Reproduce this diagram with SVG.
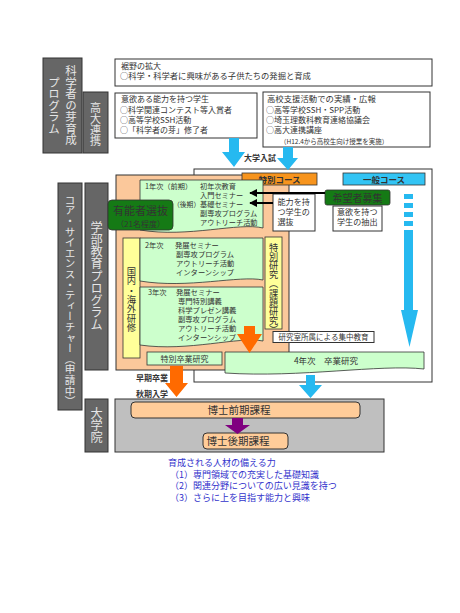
<svg xmlns="http://www.w3.org/2000/svg" width="460" height="613" viewBox="0 0 460 613">
<defs>
<style>
.t{font-family:"Noto Sans CJK JP","Noto Sans",sans-serif;fill:#333}
.bd{font-weight:bold}
.box{fill:#fff;stroke:#333;stroke-width:1}
.lab{fill:#666;stroke:#333;stroke-width:1}
.vt{writing-mode:vertical-rl;font-family:"Noto Sans CJK JP","Noto Sans",sans-serif;fill:#e6e6e6}
.vd{writing-mode:vertical-rl;font-family:"Noto Sans CJK JP","Noto Sans",sans-serif;fill:#333}
.lg{fill:#ccffcc;stroke:#333;stroke-width:0.8}
.yl{fill:#ffff99;stroke:#333;stroke-width:0.8}
.dg{fill:#157a15;stroke:#333;stroke-width:0.8}
.pk{fill:#ffcc99;stroke:#333;stroke-width:1}
.cy{fill:#26b9f0}
.or{fill:#ff6a00}
.bl{font-family:"Noto Sans CJK JP","Noto Sans",sans-serif;fill:#3333cc;font-size:9px}
</style>
<marker id="ah" viewBox="0 0 10 10" refX="9" refY="5" markerWidth="4" markerHeight="4" orient="auto"><path d="M0,0L10,5L0,10z" fill="#000"/></marker>
</defs>
<rect width="460" height="613" fill="#fff"/>

<g id="label-kagakusha">
<rect class="lab" x="43" y="58" width="39" height="95"/>
<text class="vt" x="71" y="65" font-size="11.5">科学者の芽育成</text>
<text class="vt" x="54" y="76.5" font-size="11.5">プログラム</text>
</g>
<g id="label-koudai">
<rect class="lab" x="83" y="92" width="25" height="61"/>
<text class="vt" x="95.5" y="102.5" font-size="11">高大連携</text>
</g>
<g id="label-core">
<rect class="lab" x="58" y="183" width="24" height="227"/>
<text class="vt" x="70" y="194.5" font-size="10.6">コア・サイエンス・ティーチャー（申請中）</text>
</g>
<g id="label-gakubu">
<rect class="lab" x="85" y="183" width="23" height="187"/>
<text class="vt" x="96.5" y="221" font-size="12.2">学部教育プログラム</text>
</g>
<g id="label-daigakuin">
<rect class="lab" x="85" y="399" width="23" height="53"/>
<text class="vt" x="96.5" y="407" font-size="12.2">大学院</text>
</g>

<g id="box-susono">
<rect class="box" x="115" y="59" width="317" height="27"/>
<text class="t" font-size="8"><tspan x="121" y="68.5">裾野の拡大</tspan><tspan x="120" y="79" font-size="8.3">○科学・科学者に興味がある子供たちの発掘と育成</tspan></text>
</g>
<g id="box-iyoku">
<rect class="box" x="115" y="93" width="142" height="45"/>
<text class="t" font-size="8"><tspan x="121" y="102">意欲ある能力を持つ学生</tspan><tspan x="120" y="113">○科学関連コンテスト等入賞者</tspan><tspan x="120" y="123">○高等学校SSH活動</tspan><tspan x="120" y="133">○「科学者の芽」修了者</tspan></text>
</g>
<g id="box-koukou">
<rect class="box" x="263" y="92" width="167" height="55"/>
<text class="t" font-size="8"><tspan x="267" y="102" font-size="8.4">高校支援活動での実績・広報</tspan><tspan x="266" y="113">○高等学校SSH・SPP活動</tspan><tspan x="266" y="123">○埼玉理数科教育連絡協議会</tspan><tspan x="266" y="133">○高大連携講座</tspan><tspan x="280" y="143.5" font-size="6.5">（H12.4から高校生向け授業を実施）</tspan></text>
</g>

<g id="nyushi">
<text class="t bd" x="244" y="161" font-size="8" fill="#222">大学入試</text>
</g>

<g id="frame-general">
<rect class="box" x="194" y="169" width="238" height="213"/>
</g>
<g id="frame-special">
<rect x="116" y="175" width="173" height="195" fill="#fbc89b" stroke="#333" stroke-width="1"/>
</g>

<g id="label-tokubetsu">
<rect x="242" y="173" width="75" height="12" fill="#f7941d" stroke="#333" stroke-width="0.8"/>
<text class="t bd" x="279.5" y="182.5" font-size="8.5" text-anchor="middle" fill="#402000">特別コース</text>
</g>
<g id="label-ippan">
<rect x="343" y="173" width="82" height="12" fill="#33c4f4" stroke="#333" stroke-width="0.8"/>
<text class="t bd" x="384" y="182.5" font-size="8.5" text-anchor="middle" fill="#103040">一般コース</text>
</g>

<g id="box-year1">
<path class="lg" d="M140,180H263V228C239,222 188,238 140,230Z"/>
<text class="t" font-size="7.2"><tspan x="145" y="189">1年次（前期）</tspan><tspan x="200" y="189">初年次教育</tspan><tspan x="200" y="198">入門セミナー</tspan><tspan x="173" y="207" font-size="6.8">（後期）</tspan><tspan x="200" y="207">基礎セミナー</tspan><tspan x="200" y="216">副専攻プログラム</tspan><tspan x="200" y="225">アウトリーチ活動</tspan></text>
</g>

<g id="box-yunousha">
<rect class="dg" x="108" y="200" width="65" height="30" rx="4"/>
<text class="t" font-size="11" text-anchor="middle" fill="#f0fff0"><tspan x="140.5" y="214.5">有能者選抜</tspan><tspan x="140.5" y="226.5" font-size="8">（21名程度）</tspan></text>
</g>

<g id="box-nouryoku">
<rect class="box" x="273" y="194" width="42" height="37"/>
<text class="t" font-size="8.1"><tspan x="277.5" y="204.5">能力を持</tspan><tspan x="277.5" y="214.8">つ学生の</tspan><tspan x="277.5" y="225.1">選抜</tspan></text>
</g>
<g id="box-kibousha">
<rect class="dg" x="325" y="190" width="65" height="15" rx="2"/>
<text class="t" x="357.5" y="201.5" font-size="10" text-anchor="middle" fill="#e6ffe6">希望者募集</text>
</g>
<g id="box-iyoku2">
<rect class="box" x="333" y="206" width="49" height="25"/>
<text class="t" font-size="8.1"><tspan x="337" y="215">意欲を持つ</tspan><tspan x="337" y="225.3">学生の抽出</tspan></text>
</g>

<g id="box-kenshu">
<rect class="yl" x="123" y="238" width="17" height="120"/>
<text class="vd" x="131.5" y="267" font-size="9.3">国内・海外研修</text>
</g>
<g id="box-year2">
<path class="lg" d="M140,238H263V280C239,275 188,289 140,281Z"/>
<text class="t" font-size="7.3"><tspan x="145" y="248">2年次</tspan><tspan x="175" y="248">発展セミナー</tspan><tspan x="176" y="257">副専攻プログラム</tspan><tspan x="176" y="266">アウトリーチ活動</tspan><tspan x="176" y="275">インターンシップ</tspan></text>
</g>
<g id="box-year3">
<path class="lg" d="M140,287H263V341C239,336 188,352 140,345Z"/>
<text class="t" font-size="7.3"><tspan x="148" y="295">3年次</tspan><tspan x="176" y="295">発展セミナー</tspan><tspan x="178" y="304">専門特別講義</tspan><tspan x="178" y="313">科学プレゼン講義</tspan><tspan x="178" y="322">副専攻プログラム</tspan><tspan x="178" y="331">アウトリーチ活動</tspan><tspan x="178" y="340">インターンシップ</tspan></text>
</g>
<g id="box-tokubetsu-kenkyu">
<rect class="yl" x="265" y="237" width="17" height="92"/>
<text class="vd" x="273.5" y="242.5" font-size="9.2">特別研究（課題研究）</text>
</g>
<g id="box-kenkyushitsu">
<rect class="box" x="273" y="331.5" width="101" height="11"/>
<text class="t" x="323.5" y="340" font-size="7.5" text-anchor="middle">研究室所属による集中教育</text>
</g>
<g id="box-tokubetsu-sotsugyo">
<rect class="lg" x="147" y="352" width="75" height="13"/>
<text class="t" x="184.5" y="361.5" font-size="8" text-anchor="middle">特別卒業研究</text>
</g>
<g id="box-year4">
<path class="lg" d="M225,352H424V369C380,364 300,378 225,373Z"/>
<text class="t" x="326" y="364" font-size="8.5" text-anchor="middle">4年次　卒業研究</text>
</g>

<g id="texts-transfer">
<text class="t bd" font-size="8" fill="#222"><tspan x="136" y="380.5">早期卒業</tspan><tspan x="136" y="396.5">秋期入学</tspan></text>
</g>

<g id="frame-graduate">
<rect x="115" y="399" width="269" height="53" fill="#bfbfbf" stroke="#333" stroke-width="1"/>
</g>
<g id="box-hakase-zenki">
<rect class="pk" x="131" y="402" width="229" height="16" rx="4"/>
<text class="t" x="239" y="414" font-size="10.5" text-anchor="middle">博士前期課程</text>
</g>
<g id="box-hakase-kouki">
<rect class="pk" x="203" y="433" width="85" height="16" rx="4"/>
<text class="t" x="238" y="445" font-size="10.5" text-anchor="middle">博士後期課程</text>
</g>

<g id="outcomes">
<text class="bl"><tspan x="168" y="466">育成される人材の備える力</tspan><tspan x="170" y="477.5">（1）専門領域での充実した基礎知識</tspan><tspan x="170" y="489">（2）関連分野についての広い見識を持つ</tspan><tspan x="170" y="500.5">（3）さらに上を目指す能力と興味</tspan></text>
</g>

<g id="connectors">
<polygon class="cy" points="229,138 239,138 239,152 245,152 234,167 222,152 229,152"/>
<polygon class="cy" points="283,147 293,147 293,158 298,158 288,170 277,158 283,158"/>
<rect class="cy" x="404" y="194" width="9" height="5"/>
<rect class="cy" x="404" y="203" width="9" height="5"/>
<rect class="cy" x="404" y="212" width="9" height="5"/>
<rect class="cy" x="404" y="221" width="9" height="5"/>
<polygon class="cy" points="404,230 413,230 413,310 418,310 409.5,347 401,310 404,310"/>
<polygon class="cy" points="306,375 315,375 315,385 322,385 310.5,398 299,385 306,385"/>
<polygon class="or" points="244,326 255,326 255,334 262,334 249.5,353 237,334 244,334"/>
<polygon class="or" points="170,366 183,366 183,383 188,383 176.5,397 165,383 170,383"/>
<polygon fill="#800080" points="232,418 243,418 243,425 250,425 237.5,434 225,425 232,425"/>
<line x1="325" y1="193" x2="250" y2="193" stroke="#000" stroke-width="2" marker-end="url(#ah)"/>
<line x1="273" y1="203" x2="250" y2="203" stroke="#000" stroke-width="2" marker-end="url(#ah)"/>
</g>
</svg>
